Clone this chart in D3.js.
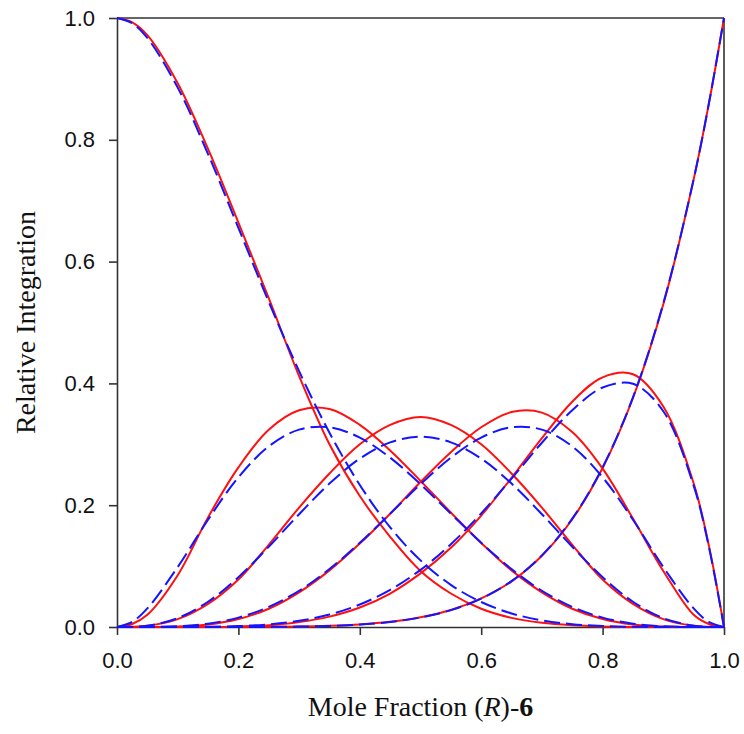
<!DOCTYPE html>
<html>
<head>
<meta charset="utf-8">
<script src="https://cdn.jsdelivr.net/npm/d3@7"></script>
<style>
  html, body { margin: 0; padding: 0; background: #fff; }
  svg { display: block; }
</style>
</head>
<body>
<svg id="chart" width="744" height="734"></svg>
<script>
// ---- Data ----
const xs = [0, 0.025, 0.05, 0.10, 0.15, 0.20, 0.25, 0.30, 0.35, 0.40, 0.45, 0.50, 0.55, 0.60, 0.65, 0.70, 0.75, 0.80, 0.85, 0.90, 0.95, 0.975, 1.0];

// red solid curves
const red0 = [1.000, 0.993, 0.972, 0.893, 0.785, 0.664, 0.540, 0.412, 0.300, 0.215, 0.148, 0.092, 0.055, 0.030, 0.015, 0.007, 0.003, 0.001, 0, 0, 0, 0, 0];
const red1 = [0, 0.005, 0.020, 0.085, 0.180, 0.262, 0.324, 0.356, 0.358, 0.332, 0.290, 0.240, 0.188, 0.138, 0.093, 0.057, 0.030, 0.013, 0.004, 0.001, 0, 0, 0];
const red2 = [0, 0.0002, 0.002, 0.013, 0.038, 0.078, 0.135, 0.196, 0.252, 0.300, 0.332, 0.345, 0.332, 0.300, 0.252, 0.196, 0.135, 0.078, 0.038, 0.013, 0.002, 0.0002, 0];
const red3 = [0, 0, 0, 0.001, 0.004, 0.013, 0.030, 0.057, 0.093, 0.137, 0.186, 0.238, 0.287, 0.328, 0.353, 0.352, 0.320, 0.260, 0.178, 0.092, 0.020, 0.005, 0];
const red4 = [0, 0, 0, 0, 0, 0.001, 0.003, 0.008, 0.017, 0.032, 0.055, 0.088, 0.130, 0.183, 0.245, 0.310, 0.370, 0.410, 0.415, 0.362, 0.236, 0.134, 0];
const red5 = [0, 0, 0, 0, 0, 0.0001, 0.0003, 0.0008, 0.002, 0.0042, 0.0085, 0.016, 0.028, 0.047, 0.075, 0.117, 0.177, 0.261, 0.376, 0.530, 0.735, 0.859, 1.0];

// blue dashed curves
const blue0 = [1.000, 0.9914, 0.9672, 0.8857, 0.7765, 0.6554, 0.5339, 0.4202, 0.3191, 0.2333, 0.1636, 0.1094, 0.0692, 0.0410, 0.0223, 0.0109, 0.0046, 0.0016, 0.0004, 0.0001, 0, 0, 0];
const blue1 = [0, 0.0085, 0.0305, 0.0984, 0.1762, 0.2458, 0.2966, 0.3241, 0.3280, 0.3110, 0.2780, 0.2344, 0.1861, 0.1382, 0.0951, 0.0595, 0.0330, 0.0154, 0.0055, 0.0012, 0.0001, 0, 0];
const blue2 = [0, 0.0003, 0.0021, 0.0146, 0.0415, 0.0819, 0.1318, 0.1852, 0.2355, 0.2765, 0.3032, 0.3125, 0.3032, 0.2765, 0.2355, 0.1852, 0.1318, 0.0819, 0.0415, 0.0146, 0.0021, 0.0003, 0];
const blue3 = [0, 0, 0.0001, 0.0012, 0.0055, 0.0154, 0.0330, 0.0595, 0.0951, 0.1382, 0.1861, 0.2344, 0.2780, 0.3110, 0.3280, 0.3241, 0.2966, 0.2458, 0.1762, 0.0984, 0.0305, 0.0085, 0];
const blue4 = [0, 0, 0, 0.0001, 0.0004, 0.0015, 0.0044, 0.0102, 0.0205, 0.0369, 0.0609, 0.0938, 0.1359, 0.1866, 0.2437, 0.3025, 0.3560, 0.3932, 0.3993, 0.3543, 0.2321, 0.1322, 0];
const blue5 = [0, 0, 0, 0, 0, 0.0001, 0.0002, 0.0007, 0.0018, 0.0041, 0.0083, 0.0156, 0.0277, 0.0467, 0.0754, 0.1176, 0.1780, 0.2621, 0.3771, 0.5314, 0.7351, 0.8591, 1.0];

const redSeries = [red0, red1, red2, red3, red4, red5];
const blueSeries = [blue0, blue1, blue2, blue3, blue4, blue5];

const xTicks = [0, 0.2, 0.4, 0.6, 0.8, 1.0];
const yTicks = [0, 0.2, 0.4, 0.6, 0.8, 1.0];
const xTitle = "Mole Fraction (";
const yTitle = "Relative Integration";

// ---- Layout ----
const mLeft = 117, mRight = 724, mTop = 18, mBottom = 627;
const svg = d3.select("#chart");

const x = d3.scaleLinear().domain([0, 1]).range([mLeft, mRight]);
const y = d3.scaleLinear().domain([0, 1]).range([mBottom, mTop]);

const axisColor = "#333";

// frame (top and right)
svg.append("line").attr("x1", mLeft).attr("x2", mRight).attr("y1", mTop).attr("y2", mTop)
  .attr("stroke", axisColor).attr("stroke-width", 1.6);
svg.append("line").attr("x1", mRight).attr("x2", mRight).attr("y1", mTop).attr("y2", mBottom)
  .attr("stroke", axisColor).attr("stroke-width", 1.6);

// axes
const gx = svg.append("g").attr("transform", `translate(0,${mBottom})`)
  .call(d3.axisBottom(x).tickValues(xTicks).tickFormat(d3.format(".1f")).tickSize(8).tickSizeOuter(0));
const gy = svg.append("g").attr("transform", `translate(${mLeft},0)`)
  .call(d3.axisLeft(y).tickValues(yTicks).tickFormat(d3.format(".1f")).tickSize(8).tickSizeOuter(0));

[gx, gy].forEach(g => {
  g.select(".domain").attr("stroke", axisColor).attr("stroke-width", 1.6);
  g.selectAll(".tick line").attr("stroke", axisColor).attr("stroke-width", 1.6);
  g.selectAll(".tick text")
    .attr("fill", "#111")
    .style("font-family", "'Liberation Sans', Arial, sans-serif")
    .style("font-size", "22px");
});
gx.selectAll(".tick text").attr("y", 41).attr("dy", "0");
gy.selectAll(".tick text").attr("x", -22);

// curves
const line = d3.line()
  .x((d, i) => x(xs[i]))
  .y(d => y(d))
  .curve(d3.curveCatmullRom.alpha(0.5));

svg.append("g").selectAll("path.red").data(redSeries).join("path")
  .attr("class", "red")
  .attr("d", d => line(d))
  .attr("fill", "none")
  .attr("stroke", "#ff1010")
  .attr("stroke-width", 2);

svg.append("g").selectAll("path.blue").data(blueSeries).join("path")
  .attr("class", "blue")
  .attr("d", d => line(d))
  .attr("fill", "none")
  .attr("stroke", "#1414ff")
  .attr("stroke-width", 2)
  .attr("stroke-dasharray", "16,6");

// titles
const xt = svg.append("text")
  .attr("x", (mLeft + mRight) / 2)
  .attr("y", 716)
  .attr("text-anchor", "middle")
  .attr("fill", "#111")
  .style("font-family", "'Liberation Serif', 'Times New Roman', serif")
  .style("font-size", "28px");
xt.append("tspan").text(xTitle);
xt.append("tspan").attr("font-style", "italic").text("R");
xt.append("tspan").text(")-");
xt.append("tspan").attr("font-weight", "bold").text("6");

svg.append("text")
  .attr("transform", `translate(35,${(mTop + mBottom) / 2}) rotate(-90)`)
  .attr("text-anchor", "middle")
  .attr("fill", "#111")
  .style("font-family", "'Liberation Serif', 'Times New Roman', serif")
  .style("font-size", "28px")
  .text(yTitle);
</script>
</body>
</html>
